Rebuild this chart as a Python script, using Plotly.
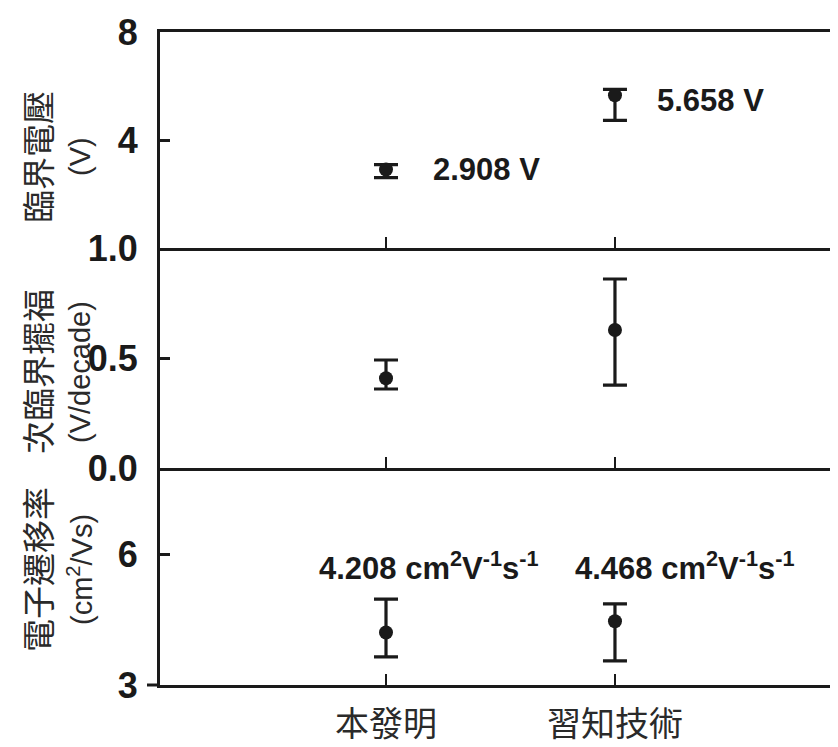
import plotly.graph_objects as go

categories = ["本發明", "習知技術"]

# 臨界電壓 (V)
vth = [2.908, 5.658]
vth_err_plus = [0.18, 0.22]
vth_err_minus = [0.30, 0.93]

# 次臨界擺福 (V/decade)
ss = [0.408, 0.627]
ss_err_plus = [0.083, 0.232]
ss_err_minus = [0.049, 0.25]

# 電子遷移率 (cm2/Vs)
mob = [4.208, 4.468]
mob_err_plus = [0.77, 0.40]
mob_err_minus = [0.56, 0.91]

vth_labels = ["2.908 V", "5.658 V"]
mob_labels = ["4.208 cm<sup>2</sup>V<sup>-1</sup>s<sup>-1</sup>",
              "4.468 cm<sup>2</sup>V<sup>-1</sup>s<sup>-1</sup>"]

vth_ticks = [4, 8]
ss_ticks = [0.0, 0.5, 1.0]
ss_ticktext = ["0.0", "0.5", "1.0"]
mob_ticks = [3, 6]

INK = "#1a1a1a"
LINE_W = 3
CJK = "Noto Sans CJK TC"
LAT = "Liberation Sans, Arial, sans-serif"

# page offset (body margin) compensation
OFF = 8
W, H = 838, 747
ML, MT = 160 - OFF, 32 - OFF
PLOT_BOTTOM = 685 - OFF
MB = H - PLOT_BOTTOM
PW = W - ML
PH = H - MT - MB

fig = go.Figure()

def add_series(y, plus, minus, xa, ya):
    fig.add_trace(go.Scatter(
        x=categories, y=y, mode="markers", xaxis=xa, yaxis=ya,
        marker=dict(symbol="circle", size=14, color=INK),
        error_y=dict(type="data", symmetric=False, array=plus, arrayminus=minus,
                     thickness=3.2, width=12, color=INK),
        showlegend=False, hoverinfo="skip"))

add_series(vth, vth_err_plus, vth_err_minus, "x", "y")
add_series(ss, ss_err_plus, ss_err_minus, "x2", "y2")
add_series(mob, mob_err_plus, mob_err_minus, "x3", "y3")

xr = [-0.987, 2.009]
xcommon = dict(type="category", categoryorder="array", categoryarray=categories,
               range=xr, showline=True, linecolor=INK, linewidth=LINE_W,
               ticks="inside", ticklen=11, tickwidth=2, tickcolor=INK,
               showgrid=False, zeroline=False, automargin=False)
ycommon = dict(showline=True, linecolor=INK, linewidth=LINE_W,
               ticks="inside", ticklen=10, tickwidth=2.5, tickcolor=INK,
               showgrid=False, zeroline=False, automargin=False,
               tickfont=dict(family=LAT, size=36, color=INK, weight="bold"),
               ticklabelstandoff=12)

# panel boundaries in screen px: 32 | 248 | 468 | 685
def frac(py):
    return 1 - (py - OFF - MT) / PH

def px_x(sx):
    return (sx - OFF - ML) / PW

d_top = [frac(248), 1.0]
d_mid = [frac(468), frac(248)]
d_bot = [0.0, frac(468)]

fig.update_layout(
    width=W, height=H,
    margin=dict(l=ML, r=0, t=MT, b=MB),
    paper_bgcolor="white", plot_bgcolor="white",
    xaxis=dict(**xcommon, anchor="y", mirror=True, showticklabels=False),
    xaxis2=dict(**xcommon, anchor="y2", showticklabels=False),
    xaxis3=dict(**xcommon, anchor="y3", showticklabels=True,
                tickfont=dict(family=CJK, size=34, color="#2a2a2a"),
                ticklabelstandoff=7),
    yaxis=dict(**ycommon, domain=d_top, anchor="x", range=[0, 8],
               tickvals=vth_ticks, ticktext=[str(v) for v in vth_ticks]),
    yaxis2=dict(**ycommon, domain=d_mid, anchor="x2", range=[0, 1],
                tickvals=ss_ticks, ticktext=ss_ticktext),
    yaxis3=dict(**ycommon, domain=d_bot, anchor="x3", range=[3, 8],
                tickvals=mob_ticks, ticktext=[str(v) for v in mob_ticks]),
)

# small extension of the bottom frame line to the left of the y axis
fig.add_shape(type="line", xref="paper", yref="paper",
              x0=px_x(147), x1=0, y0=0, y1=0,
              line=dict(color=INK, width=LINE_W))

# value annotations
fig.add_annotation(x=categories[0], y=vth[0], xref="x", yref="y", text=vth_labels[0],
                   showarrow=False, xanchor="left", yanchor="middle", xshift=45,
                   font=dict(family=LAT, size=31, color=INK, weight="bold"))
fig.add_annotation(x=categories[1], y=vth[1], xref="x", yref="y", text=vth_labels[1],
                   showarrow=False, xanchor="left", yanchor="middle", xshift=40, yshift=-5,
                   font=dict(family=LAT, size=31, color=INK, weight="bold"))
for i in range(2):
    fig.add_annotation(x=categories[i], y=5.75, xref="x3", yref="y3", text=mob_labels[i],
                       showarrow=False, xanchor="center", yanchor="middle",
                       xshift=[43, 70][i],
                       font=dict(family=LAT, size=31, color=INK, weight="bold"))

# rotated two-line axis titles (line1 CJK, line2 unit); screen px positions
titles = [
    ("臨界電壓", "(V)", 157),
    ("次臨界擺福", "(V/decade)", 372),
    ("電子遷移率", "(cm<sup>2</sup>/Vs)", 570),
]
for t1, t2, yc in titles:
    yp = frac(yc)
    fig.add_annotation(x=px_x(37), y=yp, xref="paper", yref="paper", text=t1,
                       textangle=-90, showarrow=False, xanchor="center", yanchor="middle",
                       font=dict(family=CJK, size=33, color="#2a2a2a"))
    fig.add_annotation(x=px_x(80), y=yp, xref="paper", yref="paper", text=t2,
                       textangle=-90, showarrow=False, xanchor="center", yanchor="middle",
                       font=dict(family=LAT, size=29, color="#2a2a2a"))

fig.write_html("out.html")
